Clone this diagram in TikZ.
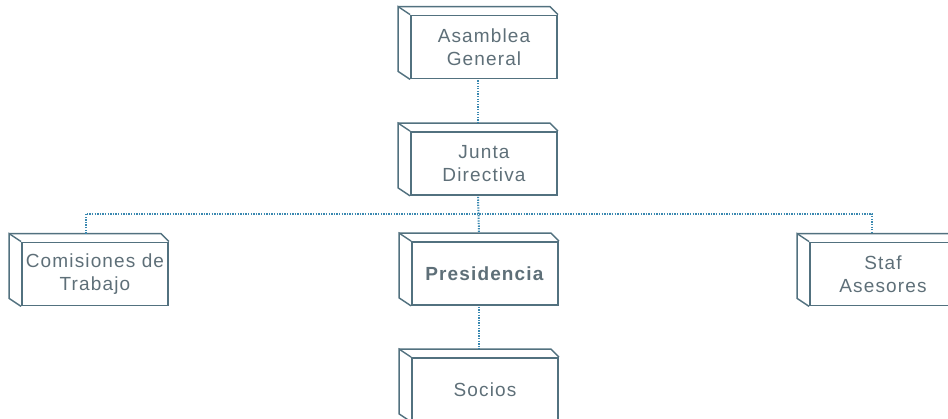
\documentclass[tikz,border=0pt]{standalone}
\usepackage{fontspec}
\setmainfont{Liberation Sans}[LetterSpace=6]
\usetikzlibrary{calc}
\definecolor{edgec}{HTML}{52717F}
\definecolor{txtc}{HTML}{5E6F78}
\definecolor{dotc}{HTML}{3A88B0}
\begin{document}
\begin{tikzpicture}[x=1pt,y=-1pt,
  box/.style={draw=edgec, line width=1.8pt, minimum width=146pt, minimum height=63pt,
    inner sep=0pt, align=center, text=txtc, font=\fontsize{19}{23}\selectfont},
  side/.style={draw=edgec, line width=1.4pt, line join=miter},
  conn/.style={dotc, line width=2pt, dash pattern=on 1.3pt off 1.3pt}]
\useasboundingbox (0,0) rectangle (948,419);
\clip (0,0) rectangle (948,419);
% nodes (front faces)
\node[box] (a) at (484,47) {Asamblea\\General};
\node[box] (j) at (484,163.5) {Junta\\Directiva};
\node[box] (p) at (485,273.5) {\textbf{Presidencia}};
\node[box] (c) at (95,274) {Comisiones de\\Trabajo};
\node[box] (s) at (883,274) {Staf\\Asesores};
\node[box] (o) at (485,389.5) {Socios};
% 3D side and top faces
\foreach \n in {a,j,p,c,s,o}{
  \draw[side] (\n.north west) -- ++(-12,-8) -- ($(\n.south west)+(-12,-8)$) -- (\n.south west);
  \draw[side] ($(\n.north west)+(-12,-8)$) -- ($(\n.north east)+(-8,-8)$) -- (\n.north east);
}
% connectors
\draw[conn] ($(a.south)+(-6,1)$) -- ($(j.north)+(-6,-8)$);
\draw[conn] ($(j.south)+(-6,1)$) -- ($(p.north)+(-6,-8)$);
\draw[conn] ($(p.south)+(-6,1)$) -- ($(o.north)+(-6,-8)$);
\draw[conn] ($(c.north)+(-9,-8)$) -- ++(0,-20) -| ($(s.north)+(-11,-8)$);
\end{tikzpicture}
\end{document}
